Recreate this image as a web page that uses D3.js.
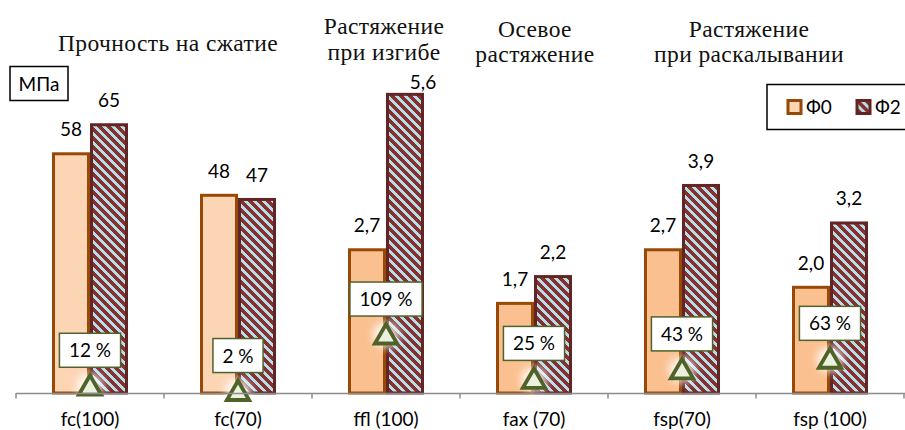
<!DOCTYPE html>
<html><head><meta charset="utf-8">
<script src="https://cdn.jsdelivr.net/npm/d3@7"></script>
<style>html,body{margin:0;padding:0;background:#fff;overflow:hidden}</style>
</head><body>
<svg id="c" width="905" height="430"></svg>
<script>
// ---- data ----
const categories = ["fc(100)", "fc(70)", "ffl (100)", "fax (70)", "fsp(70)", "fsp (100)"];
const seriesNames = ["Ф0", "Ф2"];
const phi0 = [58, 48, 2.7, 1.7, 2.7, 2.0];
const phi2 = [65, 47, 5.6, 2.2, 3.9, 3.2];
const deltaPct = [12, 2, 109, 25, 43, 63];
const groupOf = ["comp", "comp", "tens", "tens", "tens", "tens"];
const titleLines = [["Прочность на сжатие"], ["Растяжение", "при изгибе"], ["Осевое", "растяжение"], ["Растяжение", "при раскалывании"]];
const unitLabel = "МПа";

// ---- layout ----
const base = 393;
const sansFont = "Lato, 'Open Sans', sans-serif";
const serifFont = "'Liberation Serif', serif";
const svg = d3.select("#c");
const x0 = d3.scaleBand().domain(categories).range([16, 904]);
const x1 = d3.scaleBand().domain(seriesNames).range([-38, 38]);
const yScale = {
  comp: d3.scaleLinear().domain([0, 100]).range([base, base - 415]),
  tens: d3.scaleLinear().domain([0, 10]).range([base, base - 536])
};
const yDelta = d3.scaleLinear().domain([0, 100]).range([392.6, 339.8]);
const loc = d3.formatLocale({decimal: ",", thousands: " ", grouping: [3], currency: ["", ""]});
const fmt = {comp: loc.format("d"), tens: loc.format(".1f")};

const fill0 = {comp: "#FCD5B5", tens: "#FAC090"};
const stroke0 = "#984807", stroke2 = "#632523";

const defs = svg.append("defs");
const P = 9;
const pat = defs.append("pattern").attr("id", "hatch").attr("patternUnits", "userSpaceOnUse")
  .attr("width", P).attr("height", P);
pat.append("rect").attr("width", P).attr("height", P).attr("fill", "#B7DEE8");
pat.append("path").attr("d", `M0,0L${P},${P}M${-P/2},${P/2}L${P/2},${P*1.5}M${P/2},${-P/2}L${P*1.5},${P/2}`)
  .attr("stroke", "#843130").attr("stroke-width", 3).attr("shape-rendering", "crispEdges");
const glow = defs.append("filter").attr("id", "glow").attr("x", "-1").attr("y", "-1").attr("width", 3).attr("height", 3);
glow.append("feGaussianBlur").attr("stdDeviation", 4.5);

const rows = categories.map((c, i) => ({c, i, g: groupOf[i], vals: [phi0[i], phi2[i]], d: deltaPct[i]}));

// bars
const gCat = svg.append("g").selectAll("g").data(rows).join("g")
  .attr("transform", d => `translate(${x0(d.c) + x0.bandwidth() / 2},0)`);
gCat.selectAll("rect").data(d => d.vals.map((v, k) => ({v, k, g: d.g, s: seriesNames[k]}))).join("rect")
  .attr("x", d => x1(d.s) + 1.5)
  .attr("width", x1.bandwidth() - 3)
  .attr("y", d => yScale[d.g](d.v) + 1.5)
  .attr("height", d => base - yScale[d.g](d.v) - 1.5)
  .attr("fill", d => d.k === 0 ? fill0[d.g] : "url(#hatch)")
  .attr("stroke", d => d.k === 0 ? stroke0 : stroke2)
  .attr("stroke-width", 3);

// value labels
gCat.selectAll("text.val").data(d => d.vals.map((v, k) => ({v, k, g: d.g, s: seriesNames[k], i: d.i}))).join("text")
  .attr("class", "val")
  .attr("x", d => x1(d.s) + x1.bandwidth() / 2 + ((d.i === 2 && d.k === 1) ? 18 : 0))
  .attr("y", d => yScale[d.g](d.v) - ((d.i === 2 && d.k === 1) ? 4 : 16))
  .attr("text-anchor", "middle").attr("font-family", sansFont).attr("font-size", 19).attr("fill", "#000")
  .text(d => fmt[d.g](d.v));

// axis
const axisG = svg.append("g").attr("transform", `translate(0,${base})`);
axisG.append("line").attr("x1", 16).attr("x2", 905).attr("y1", 0.5).attr("y2", 0.5)
  .attr("stroke", "#8C8C8C").attr("stroke-width", 1.5);
const tickXs = categories.map(c => x0(c)).concat([x0.range()[1]]);
axisG.selectAll("line.tk").data(tickXs).join("line").attr("class", "tk")
  .attr("x1", d => d).attr("x2", d => d).attr("y1", 0).attr("y2", 5.5)
  .attr("stroke", "#8C8C8C").attr("stroke-width", 1.5);
axisG.selectAll("text").data(categories).join("text")
  .attr("x", d => x0(d) + x0.bandwidth() / 2).attr("y", 33)
  .attr("text-anchor", "middle").attr("font-family", sansFont).attr("font-size", 19).attr("fill", "#000")
  .text(d => d);

// delta markers + labels
const dG = gCat.append("g");
dG.append("circle").attr("cx", 0).attr("cy", d => yDelta(d.d)).attr("r", 13)
  .attr("fill", "#fff").attr("opacity", 0.85).attr("filter", "url(#glow)");
dG.append("path")
  .attr("d", d3.symbol(d3.symbolTriangle, 215))
  .attr("transform", d => `translate(0,${yDelta(d.d) + 2})`)
  .attr("fill", "#EBF1DE").attr("stroke", "#4F6228").attr("stroke-width", 3.8).attr("stroke-linejoin", "miter");
const lab = dG.append("g").attr("transform", d => `translate(0,${yDelta(d.d) - 36})`);
lab.append("rect").attr("fill", "#fff").attr("stroke", "#4F6228").attr("stroke-width", 1.5);
const labText = lab.append("text").attr("text-anchor", "middle").attr("y", 7)
  .attr("font-family", sansFont).attr("font-size", 19).attr("fill", "#000")
  .text(d => d.d + " %");
labText.each(function () {
  const w = this.getComputedTextLength();
  d3.select(this.parentNode).select("rect")
    .attr("x", -w / 2 - 9.5).attr("width", w + 19).attr("y", -17).attr("height", 34);
});

// titles
const titleAnchors = [[168, [51]], [384, [34, 59.5]], [535, [37, 62]], [749, [37, 62]]];
svg.append("g").selectAll("text").data(titleLines).join("text")
  .attr("text-anchor", "middle").attr("font-family", serifFont).attr("font-size", 23.5)
  .attr("letter-spacing", 0.4).attr("fill", "#111")
  .each(function (lines, i) {
    const [cx, ys] = titleAnchors[i];
    d3.select(this).selectAll("tspan").data(lines).join("tspan")
      .attr("x", cx).attr("y", (l, j) => ys[j]).text(l => l);
  });

// unit box
svg.append("rect").attr("x", 10).attr("y", 66.5).attr("width", 58).attr("height", 34)
  .attr("fill", "#fff").attr("stroke", "#000").attr("stroke-width", 1.5);
svg.append("text").attr("x", 39).attr("y", 90.5).attr("text-anchor", "middle")
  .attr("font-family", sansFont).attr("font-size", 19).text(unitLabel);

// legend
const leg = svg.append("g");
leg.append("rect").attr("x", 767).attr("y", 84.5).attr("width", 150).attr("height", 45)
  .attr("fill", "#fff").attr("stroke", "#000").attr("stroke-width", 1.5);
const legX = [788, 857];
const li = leg.selectAll("g.li").data(seriesNames).join("g").attr("class", "li")
  .attr("transform", (d, k) => `translate(${legX[k]},100.5)`);
li.append("rect").attr("width", 13).attr("height", 13)
  .attr("fill", (d, k) => k === 0 ? fill0.comp : "url(#hatch)")
  .attr("stroke", (d, k) => k === 0 ? stroke0 : stroke2).attr("stroke-width", 3);
li.append("text").attr("x", 18).attr("y", 13).attr("font-family", sansFont).attr("font-size", 19).text(d => d);
</script>
</body></html>
